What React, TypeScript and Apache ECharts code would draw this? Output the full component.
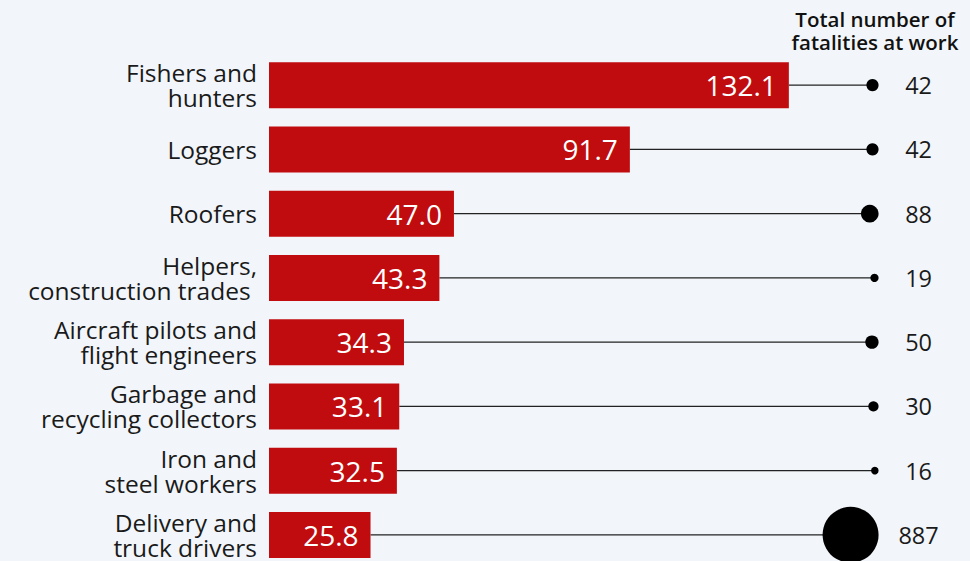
import React, { useEffect, useRef } from "react";
import * as echarts from "echarts";

const categories = [
  "Fishers and\nhunters",
  "Loggers",
  "Roofers",
  "Helpers,\nconstruction trades ",
  "Aircraft pilots and\nflight engineers",
  "Garbage and\nrecycling collectors",
  "Iron and\nsteel workers",
  "Delivery and\ntruck drivers",
];
const fatalityRates = [132.1, 91.7, 47.0, 43.3, 34.3, 33.1, 32.5, 25.8];
const totalFatalities = [42, 42, 88, 19, 50, 30, 16, 887];

const DOT_COLUMN = 154.9;
const MAX_TOTAL = 887;
const MAX_DIAM = 56;

export default function App() {
  const ref = useRef<HTMLDivElement>(null);
  useEffect(() => {
    if (!ref.current) return;
    const chart = echarts.init(ref.current, null, { renderer: "svg" });
    const font = "'Open Sans', 'Noto Sans', sans-serif";
    const dotData = totalFatalities.map((v, i) => {
      const d = MAX_DIAM * Math.sqrt(v / MAX_TOTAL);
      return {
        value: [DOT_COLUMN, i, v],
        symbolSize: d,
        symbolOffset: [-d / 2, 0],
        label: { offset: [40 + d / 2, 0] },
      };
    });
    chart.setOption({
      animation: false,
      backgroundColor: "#f2f6fa",
      textStyle: { fontFamily: font },
      grid: { left: 269, right: 32, top: 53, height: 514, containLabel: false },
      xAxis: {
        type: "value",
        min: 0,
        max: 170,
        show: false,
      },
      yAxis: {
        type: "category",
        data: categories,
        inverse: true,
        axisLine: { show: false },
        axisTick: { show: false },
        splitLine: { show: false },
        axisLabel: {
          margin: 12,
          fontSize: 24.5,
          lineHeight: 25,
          color: "#1a1a1a",
          fontFamily: font,
          align: "right",
        },
      },
      graphic: [
        {
          type: "text",
          x: 875,
          y: 7,
          style: {
            text: "Total number of\nfatalities at work",
            fontSize: 20.5,
            fontWeight: 600,
            lineHeight: 23,
            fill: "#111",
            align: "center",
            fontFamily: font,
          },
        },
      ],
      series: [
        {
          type: "custom",
          z: 1,
          data: fatalityRates.map((v, i) => [v, i]),
          renderItem: (params: any, api: any) => {
            const start = api.coord([api.value(0), api.value(1)]);
            const end = api.coord([DOT_COLUMN, api.value(1)]);
            return {
              type: "line",
              shape: { x1: start[0], y1: start[1], x2: end[0] - 6, y2: end[1] },
              style: { stroke: "#222", lineWidth: 1.2 },
            };
          },
        },
        {
          type: "bar",
          data: fatalityRates,
          barWidth: 46,
          z: 2,
          itemStyle: { color: "#c00c0f" },
          label: {
            show: true,
            position: "insideRight",
            distance: 12,
            color: "#fff",
            fontSize: 28,
            fontFamily: font,
            formatter: (p: any) => p.value.toFixed(1),
          },
        },
        {
          type: "scatter",
          z: 3,
          data: dotData,
          itemStyle: { color: "#000", opacity: 1 },
          label: {
            show: true,
            position: "inside",
            align: "center",
            color: "#1a1a1a",
            fontSize: 23.5,
            fontFamily: font,
            formatter: (p: any) => String(p.value[2]),
          },
        },
      ],
    });
    return () => chart.dispose();
  }, []);
  return (
    <div
      ref={ref}
      style={{ position: "fixed", left: 0, top: 0, width: 970, height: 570 }}
    />
  );
}
